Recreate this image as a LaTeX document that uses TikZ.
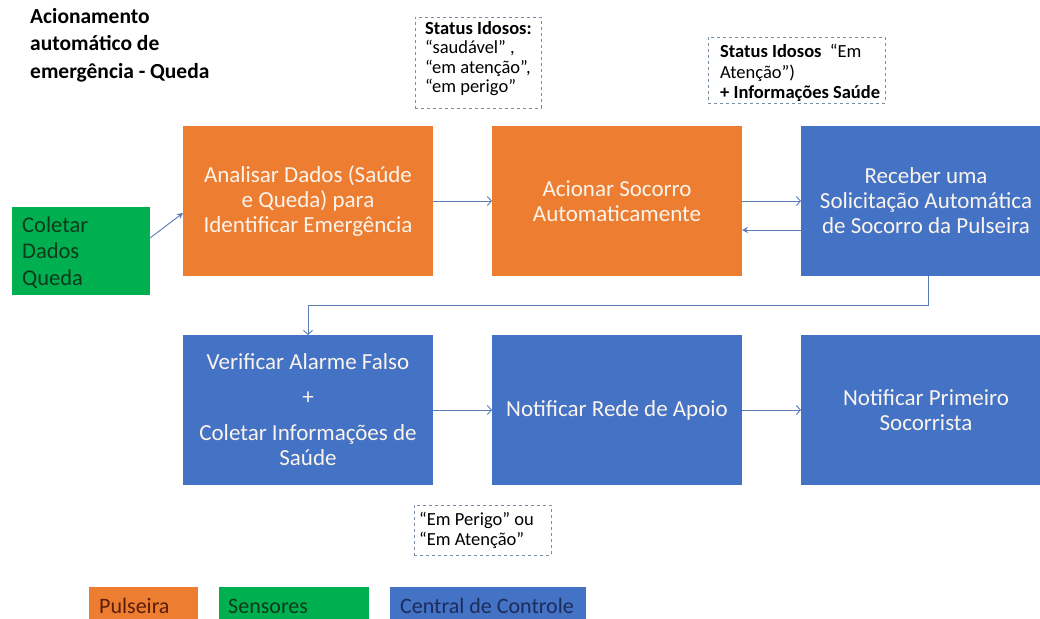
\documentclass[tikz,border=0pt]{standalone}
\usepackage{fontspec}
\setmainfont{Carlito}
\usetikzlibrary{arrows.meta}
\definecolor{orng}{HTML}{ED7D31}
\definecolor{blu}{HTML}{4472C4}
\definecolor{grn}{HTML}{00B050}
\definecolor{arr}{HTML}{5B7BB5}
\definecolor{dash}{HTML}{7A8CA6}
\definecolor{boxtxt}{HTML}{FBF4EC}
\definecolor{grntxt}{HTML}{0E3A1C}
\definecolor{orgtxt}{HTML}{5A1E0A}
\definecolor{blutxt}{HTML}{1C2C5C}
\begin{document}
\begin{tikzpicture}[x=1pt,y=-1pt,
  proc/.style={inner sep=0pt,outer sep=0pt,minimum width=250pt,minimum height=150pt,
    text=boxtxt,align=center,font=\fontsize{23}{25}\selectfont},
  pulse/.style={proc,fill=orng},
  central/.style={proc,fill=blu},
  note/.style={draw=dash,dashed,line width=0.7pt,inner sep=0pt,outer sep=0pt},
  ntxt/.style={anchor=base west,inner sep=0pt,font=\fontsize{18.5}{20}\selectfont,text=black},
  ttxt/.style={anchor=base west,inner sep=0pt,font=\bfseries\fontsize{21.5}{25}\selectfont,text=black},
  gtxt/.style={anchor=base west,inner sep=0pt,font=\fontsize{22.5}{25}\selectfont,text=grntxt},
  flow/.style={draw=arr,line width=0.9pt,-{Straight Barb[length=4pt,width=9pt]}},
  flowf/.style={draw=arr,line width=0.9pt,-{Stealth[length=6pt,width=6pt]}},
  leg/.style={inner sep=0pt,outer sep=0pt,minimum height=36pt,anchor=north west},
  ltxt/.style={anchor=base west,inner sep=0pt,font=\fontsize{22}{25}\selectfont}
]
\clip (0,0) rectangle (1040,618);
\fill[white] (0,0) rectangle (1040,618);

% title
\node[ttxt] (t1) at (30,24) {Acionamento};
\node[ttxt] (t2) at (30,51) {automático de};
\node[ttxt] (t3) at (30,78) {emergência - Queda};

% notes
\node[note,minimum width=126pt,minimum height=91pt] (n1) at (478,62.5) {};
\node[ntxt] (n1a) at (425,35) {\textbf{Status Idosos:}};
\node[ntxt] (n1b) at (425,54) {“saudável” ,};
\node[ntxt] (n1c) at (425,73) {“em atenção”,};
\node[ntxt] (n1d) at (425,92) {“em perigo”};

\node[note,minimum width=177pt,minimum height=66pt] (n2) at (796.5,70) {};
\node[ntxt] (n2a) at (720,57) {\textbf{Status Idosos}\ \ “Em};
\node[ntxt] (n2b) at (720,78) {Atenção”)};
\node[ntxt] (n2c) at (720,98) {\textbf{+ Informações Saúde}};

\node[note,minimum width=137pt,minimum height=50pt] (n3) at (482.5,530) {};
\node[ntxt] (n3a) at (419,525) {“Em Perigo” ou};
\node[ntxt] (n3b) at (419,545) {“Em Atenção”};

% row 1
\node[inner sep=0pt,outer sep=0pt,minimum width=138pt,minimum height=88pt,fill=grn] (col) at (81,251) {};
\node[gtxt] (g1) at (22,232) {Coletar};
\node[gtxt] (g2) at (22,258.5) {Dados};
\node[gtxt] (g3) at (22,285) {Queda};
\node[pulse] (ana) at (308,201) {Analisar Dados (Saúde\\e Queda) para\\Identificar Emergência};
\node[pulse] (aci) at (617,201) {Acionar Socorro\\Automaticamente};
\node[central] (rec) at (926,201) {Receber uma\\Solicitação Automática\\de Socorro da Pulseira};

% row 2
\node[central] (ver) at (308,410) {Verificar Alarme Falso\\[10pt]+\\[11pt]Coletar Informações de\\Saúde};
\node[central] (rede) at (617,410) {Notificar Rede de Apoio};
\node[central] (prim) at (926,410) {Notificar Primeiro\\Socorrista};

% connectors
\coordinate (c1s) at (150,238);
\draw[flowf] (c1s) -- (ana.west |- 0,213) ;
\draw[flow] (ana.east |- 0,201) -- (aci.west |- 0,201);
\draw[flow] (aci.east |- 0,201) -- (rec.west |- 0,201);
\draw[flowf] (rec.west |- 0,230) -- (aci.east |- 0,230);
\draw[flow] (rec.south -| 928,0) -- (928,305) -- (308,305) -- (ver.north -| 308,0);
\draw[flow] (ver.east |- 0,410) -- (rede.west |- 0,410);
\draw[flow] (rede.east |- 0,410) -- (prim.west |- 0,410);

% legend
\node[leg,fill=orng,minimum width=109pt] (lp) at (89,587) {};
\node[ltxt,text=orgtxt] (lpt) at (99,613) {Pulseira};
\node[leg,fill=grn,minimum width=150pt] (ls) at (219,587) {};
\node[ltxt,text=grntxt] (lst) at (228,613) {Sensores};
\node[leg,fill=blu,minimum width=196pt] (lc) at (390,587) {};
\node[ltxt,text=blutxt] (lct) at (400,613) {Central de Controle};
\end{tikzpicture}
\end{document}
